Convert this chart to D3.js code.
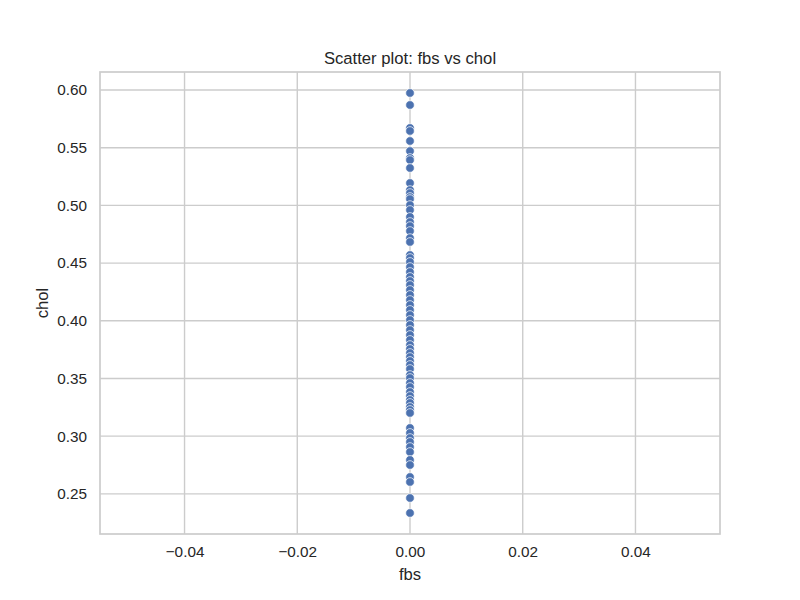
<!DOCTYPE html>
<html>
<head>
<meta charset="utf-8">
<script src="https://cdn.jsdelivr.net/npm/d3@7"></script>
<style>
  body { margin: 0; background: #fff; }
  text { font-family: Arial, "Liberation Sans", Helvetica, sans-serif; fill: #262626; }
</style>
</head>
<body>
<svg id="chart" width="800" height="600"></svg>
<script>
// Data (fbs is 0 for every point)
const fbsValues = Array(71).fill(0);
const cholValues = [
  0.5974, 0.5870, 0.5671, 0.5645, 0.5558, 0.5471, 0.5411, 0.5393, 0.5324, 0.5194,
  0.5133, 0.5107, 0.5073, 0.5055, 0.5003, 0.4960, 0.4900, 0.4856, 0.4821, 0.4778,
  0.4717, 0.4683, 0.4570, 0.4544, 0.4510, 0.4466, 0.4423, 0.4380, 0.4345, 0.4310,
  0.4267, 0.4224, 0.4180, 0.4137, 0.4094, 0.4050, 0.4007, 0.3964, 0.3920, 0.3877,
  0.3834, 0.3790, 0.3756, 0.3721, 0.3686, 0.3652, 0.3617, 0.3582, 0.3530, 0.3504,
  0.3461, 0.3426, 0.3383, 0.3348, 0.3314, 0.3288, 0.3253, 0.3227, 0.3201, 0.3071,
  0.3028, 0.2984, 0.2950, 0.2906, 0.2863, 0.2794, 0.2750, 0.2646, 0.2603, 0.2464,
  0.2334
];
const xTicks = [-0.04, -0.02, 0.00, 0.02, 0.04];
const yTicks = [0.25, 0.30, 0.35, 0.40, 0.45, 0.50, 0.55, 0.60];
const titleText = "Scatter plot: fbs vs chol";
const xLabel = "fbs";
const yLabel = "chol";

(function () {
const points = fbsValues.map((f, i) => ({ x: f, y: cholValues[i] }));

const mLeft = 100, mRight = 720, mTop = 72, mBottom = 534;
const svg = d3.select("#chart");

const yMin = d3.min(cholValues), yMax = d3.max(cholValues);
const yPad = (yMax - yMin) * 0.05;
const x = d3.scaleLinear().domain([-0.055, 0.055]).range([mLeft, mRight]);
const y = d3.scaleLinear().domain([yMin - yPad, yMax + yPad]).range([mBottom, mTop]);

const gridColor = "#cccccc";

// grid
svg.append("g").selectAll("line").data(xTicks).join("line")
  .attr("x1", d => x(d)).attr("x2", d => x(d))
  .attr("y1", mTop).attr("y2", mBottom)
  .attr("stroke", gridColor).attr("stroke-width", 1.4);
svg.append("g").selectAll("line").data(yTicks).join("line")
  .attr("y1", d => y(d)).attr("y2", d => y(d))
  .attr("x1", mLeft).attr("x2", mRight)
  .attr("stroke", gridColor).attr("stroke-width", 1.4);

// axes (tick labels via d3 axes)
const xAxis = svg.append("g").attr("transform", `translate(0,${mBottom})`)
  .call(d3.axisBottom(x).tickValues(xTicks).tickFormat(d => d3.format(".2f")(d).replace("-", "\u2212")).tickSize(0).tickPadding(12));
const yAxis = svg.append("g").attr("transform", `translate(${mLeft},0)`)
  .call(d3.axisLeft(y).tickValues(yTicks).tickFormat(d3.format(".2f")).tickSize(0).tickPadding(13));
[xAxis, yAxis].forEach(g => {
  g.select(".domain").remove();
  g.selectAll("text").attr("font-size", "15.3px").attr("fill", "#262626")
    .attr("font-family", "Arial, 'Liberation Sans', sans-serif");
});

// frame
svg.append("rect").attr("x", mLeft).attr("y", mTop)
  .attr("width", mRight - mLeft).attr("height", mBottom - mTop)
  .attr("fill", "none").attr("stroke", gridColor).attr("stroke-width", 1.7);

// points
svg.append("g").selectAll("circle").data(points).join("circle")
  .attr("cx", d => x(d.x)).attr("cy", d => y(d.y)).attr("r", 4.3)
  .attr("fill", "#4c72b0").attr("stroke", "#ffffff").attr("stroke-width", 0.7);

// title and labels
svg.append("text").attr("x", (mLeft + mRight) / 2).attr("y", 64)
  .attr("text-anchor", "middle").attr("font-size", "16.67px").text(titleText);
svg.append("text").attr("x", (mLeft + mRight) / 2).attr("y", 580)
  .attr("text-anchor", "middle").attr("font-size", "16.67px").text(xLabel);
svg.append("text").attr("transform", `translate(48,${(mTop + mBottom) / 2}) rotate(-90)`)
  .attr("text-anchor", "middle").attr("font-size", "16.67px").text(yLabel);
})();
</script>
</body>
</html>
